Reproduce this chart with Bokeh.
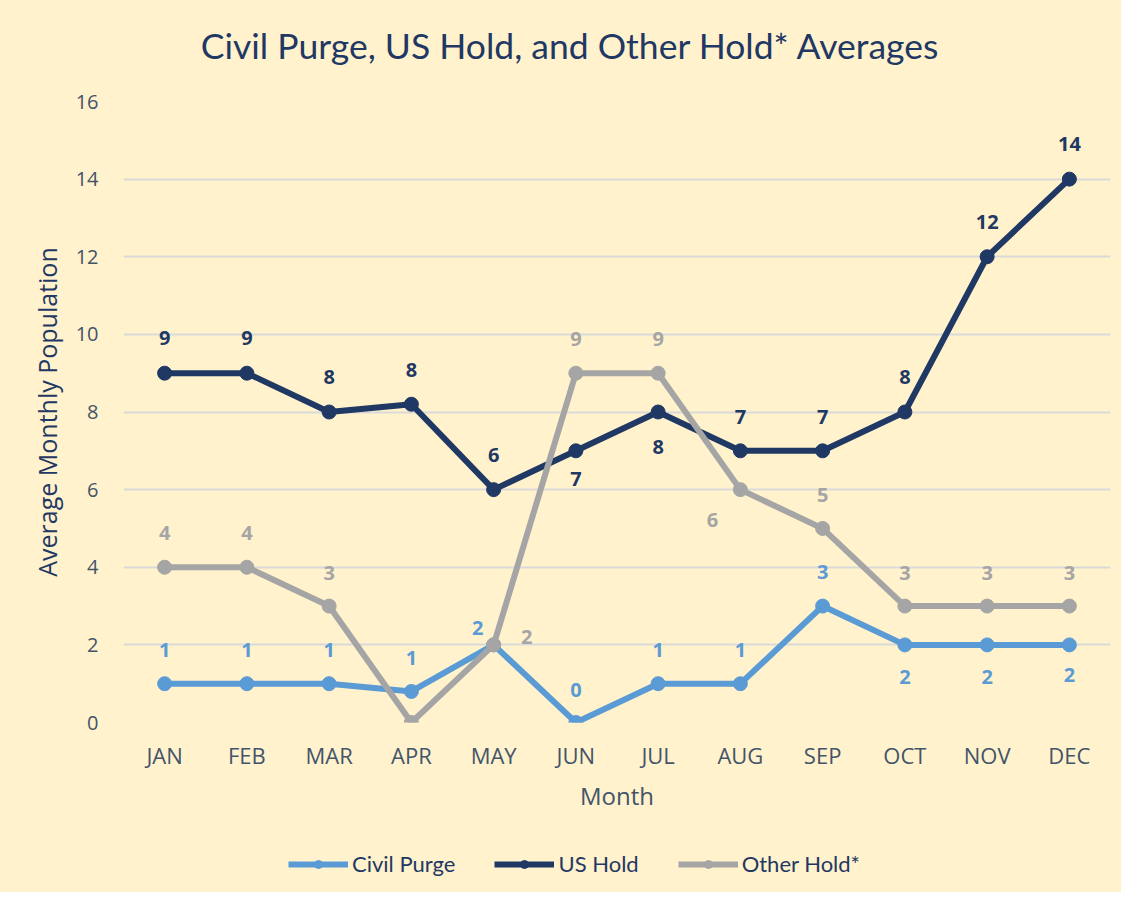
from bokeh.plotting import figure
from bokeh.layouts import column
from bokeh.models import ColumnDataSource, Range1d, FactorRange, Legend, LegendItem, Label
from bokeh.embed import file_html
from bokeh.resources import INLINE
from bokeh.core.properties import value

months = ["JAN", "FEB", "MAR", "APR", "MAY", "JUN", "JUL", "AUG", "SEP", "OCT", "NOV", "DEC"]
civil_purge = [1, 1, 1, 0.8, 2, 0, 1, 1, 3, 2, 2, 2]
us_hold = [9, 9, 8, 8.2, 6, 7, 8, 7, 7, 8, 12, 14]
other_hold = [4, 4, 3, 0, 2, 9, 9, 6, 5, 3, 3, 3]

civil_labels = ["1", "1", "1", "1", "2", "0", "1", "1", "3", "2", "2", "2"]
us_labels = ["9", "9", "8", "8", "6", "7", "8", "7", "7", "8", "12", "14"]
other_labels = ["4", "4", "3", "", "2", "9", "9", "6", "5", "3", "3", "3"]

TITLE = "Civil Purge, US Hold, and Other Hold* Averages"

# label offsets in screen px (positive dy = down)
civil_dx = [0, 0, 0, 0, -16, 0, 0, 0, 0, 0, 0, 0]
civil_dy = [-34, -34, -34, -33, -17, -33, -34, -34, -34, 32, 32, 30]
us_dx = [0] * 12
us_dy = [-35, -35, -35, -34, -35, 28, 35, -34, -34, -35, -35, -35]
other_dx = [0, 0, 0, 0, 33, 0, 0, -28, 0, 0, 0, 0]
other_dy = [-34, -34, -33, -33, -8, -34, -34, 30, -33, -33, -33, -33]

BG = "#FFF2CC"
C_CIVIL = "#5B9BD5"
C_US = "#1F3864"
C_OTHER = "#A5A5A5"
TXT = "#44546A"


def strip(h, xr, yr):
    f = figure(width=1121, height=h, x_range=xr, y_range=yr,
               output_backend="svg", toolbar_location=None,
               background_fill_color=BG, border_fill_color=BG,
               min_border_left=0, min_border_right=0, min_border_top=0, min_border_bottom=0)
    f.outline_line_color = None
    f.axis.visible = False
    f.grid.visible = False
    return f


# title strip (its frame is aligned with the chart frame by the column layout)
tp = strip(80, Range1d(123, 1110), Range1d(0, 80))
tp.add_layout(Label(x=570, y=35, text=TITLE, text_align="center", text_baseline="middle",
                    text_font="Lato", text_font_size="35.5px", text_color=C_US))

p = figure(
    width=1121, height=750, title=None,
    x_range=FactorRange(*months, range_padding=0),
    y_range=Range1d(0, 16),
    output_backend="svg", toolbar_location=None,
    background_fill_color=BG, border_fill_color=BG,
    min_border_left=123, min_border_right=11, min_border_top=21, min_border_bottom=108,
)
p.outline_line_color = None

p.xgrid.grid_line_color = None
p.ygrid.grid_line_color = "#D9D9D9"
p.ygrid.grid_line_width = 2
p.yaxis.ticker = list(range(0, 17, 2))

for ax in (p.xaxis[0], p.yaxis[0]):
    ax.axis_line_color = None
    ax.major_tick_line_color = None
    ax.minor_tick_line_color = None
    ax.major_label_text_color = TXT
    ax.major_label_text_font = "Open Sans"
    ax.axis_label_text_font = "Open Sans"
    ax.axis_label_text_font_style = "normal"

p.xaxis.major_label_text_font_size = "22px"
p.yaxis.major_label_text_font_size = "20px"
p.xaxis.axis_label = "Month"
p.xaxis.axis_label_text_font_size = "24px"
p.xaxis.major_label_standoff = 11
p.xaxis.axis_label_standoff = 6
p.xaxis.axis_label_text_color = TXT
p.yaxis.axis_label = "Average Monthly Population"
p.yaxis.axis_label_text_font_size = "25px"
p.yaxis.axis_label_text_color = C_US
p.yaxis.major_label_standoff = 19
p.yaxis.axis_label_standoff = 9

series = [
    ("Civil Purge", civil_purge, civil_labels, civil_dx, civil_dy, C_CIVIL),
    ("US Hold", us_hold, us_labels, us_dx, us_dy, C_US),
    ("Other Hold*", other_hold, other_labels, other_dx, other_dy, C_OTHER),
]

for name, vals, labs, dx, dy, col in series:
    src = ColumnDataSource(dict(x=months, y=vals, t=labs, dx=dx, dy=dy))
    p.line("x", "y", source=src, line_color=col, line_width=6)
    p.scatter("x", "y", source=src, size=14, fill_color=col, line_color=col)
    p.text("x", "y", text="t", source=src, x_offset="dx", y_offset="dy",
           text_color=col, text_font=value("Open Sans"), text_font_size="20px",
           text_font_style="bold", text_align="center", text_baseline="middle")

# legend strip below the chart (its glyphs sit outside the visible range)
lp = strip(62, Range1d(0, 1), Range1d(0, 1))
items = []
for name, vals, labs, dx, dy, col in series:
    ln = lp.line(x=[-5, -4], y=[-5, -5], line_color=col, line_width=6)
    sc = lp.scatter(x=[-5], y=[-5], size=14, fill_color=col, line_color=col)
    items.append(LegendItem(label=name, renderers=[ln, sc]))
legend = Legend(items=items, orientation="horizontal", location=(165, 15),
                background_fill_alpha=0, border_line_color=None, padding=0, margin=0,
                label_text_font="Lato", label_text_font_size="22px",
                label_text_color=C_US, glyph_width=60, label_standoff=4, spacing=39)
lp.add_layout(legend, "center")

layout = column(tp, p, lp, spacing=0, styles={"background-color": BG})
open("out.html", "w").write(file_html(layout, INLINE))
